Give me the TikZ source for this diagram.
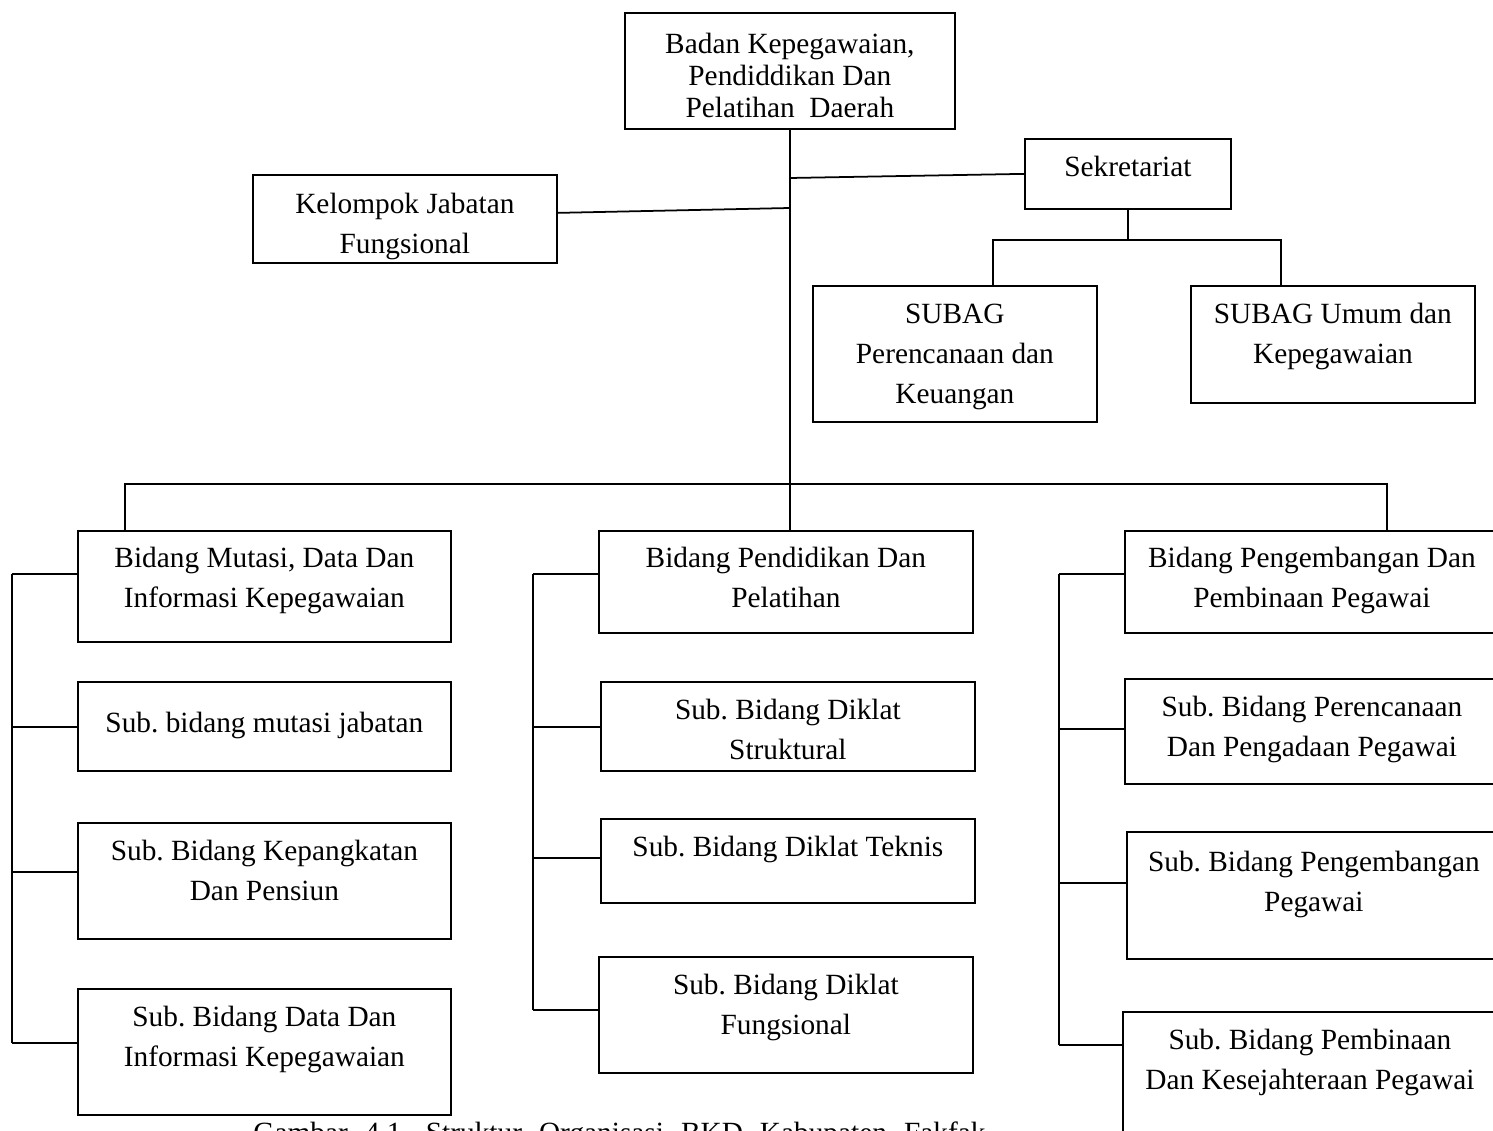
\documentclass[tikz,border=0pt]{standalone}
\usepackage{fontspec}
\setmainfont{Liberation Serif}
\frenchspacing
\newlength\pxu
\setlength\pxu{0.02cm}
\tikzset{
  orgbox/.style={draw, line width=1pt, inner sep=0pt, anchor=north west,
    font=\fontsize{16.7}{22.8}\selectfont},
  link/.style={line width=1pt},
}
% box with top aligned text: [first baseline]{name}{x}{y}{width}{height}{text}
\newcommand{\orgnode}[7][38]{%
  \node[orgbox] (#2) at (#3,#4)
    {\parbox[c][#6\pxu][t]{#5\pxu}{\centering\rule{0pt}{#1\pxu}#7}};}
\begin{document}
\begin{tikzpicture}[x=0.02cm, y=-0.02cm]
  \useasboundingbox (0,0) rectangle (1493,1131);
  % Top level
  \orgnode[41]{kepala}{624}{12}{330}{116}{\setlength\baselineskip{32\pxu}Badan Kepegawaian,\\ Pendiddikan Dan\\ Pelatihan\ \ Daerah}
  \orgnode{sekret}{1024}{138}{206}{70}{Sekretariat}
  \orgnode[39]{kjf}{252}{174}{304}{88}{Kelompok Jabatan\\ Fungsional}
  \orgnode{subperenc}{812}{285}{284}{136}{SUBAG\\ Perencanaan dan\\ Keuangan}
  \orgnode{subumum}{1190}{285}{284}{117}{SUBAG Umum dan\\ Kepegawaian}
  % Bidang
  \orgnode[37]{mutasi}{77}{530}{373}{111}{Bidang Mutasi, Data Dan\\ Informasi Kepegawaian}
  \orgnode[37]{diklat}{598}{530}{374}{102}{Bidang Pendidikan Dan\\ Pelatihan}
  \orgnode[37]{bangbina}{1124}{530}{374}{102}{Bidang Pengembangan Dan\\ Pembinaan Pegawai}
  % Sub bidang, left
  \orgnode[51]{jabatan}{77}{681}{373}{89}{Sub. bidang mutasi jabatan}
  \orgnode{pangkat}{77}{822}{373}{116}{Sub. Bidang Kepangkatan\\ Dan Pensiun}
  \orgnode{datainfo}{77}{988}{373}{126}{Sub. Bidang Data Dan\\ Informasi Kepegawaian}
  % Sub bidang, middle
  \orgnode{struktural}{600}{681}{374}{89}{Sub. Bidang Diklat\\ Struktural}
  \orgnode{teknis}{600}{818}{374}{84}{Sub. Bidang Diklat Teknis}
  \orgnode{fungsional}{598}{956}{374}{116}{Sub. Bidang Diklat\\ Fungsional}
  % Sub bidang, right
  \orgnode{pengadaan}{1124}{678}{374}{105}{Sub. Bidang Perencanaan\\ Dan Pengadaan Pegawai}
  \orgnode[40]{pengembangan}{1126}{831}{374}{127}{Sub. Bidang Pengembangan\\ Pegawai}
  \orgnode{kesejahteraan}{1122}{1011}{374}{129}{Sub. Bidang Pembinaan\\ Dan Kesejahteraan Pegawai}
  % Connectors
  \draw[link] (kepala.south) -- (kepala.south |- diklat.north);
  \draw[link] (sekret.west) -- (kepala.south |- 0,178);
  \draw[link] ([yshift=0.12cm]kjf.east) -- (kepala.south |- 0,208);
  \draw[link] (sekret.south) -- ++(0,30) coordinate (sekbus);
  \draw[link] ([xshift=0.76cm]subperenc.north) |- (sekbus) -| ([xshift=-1.04cm]subumum.north);
  \coordinate (bus) at (kepala.south |- 0,484);
  \draw[link] ([xshift=-2.79cm]mutasi.north) |- (bus) -| ([xshift=1.5cm]bangbina.north);
  \foreach \n/\y in {mutasi/574, jabatan/727, pangkat/872, datainfo/1043}
    \draw[link] (\n.west |- 0,\y) -- (12,\y);
  \draw[link] (12,574) -- (12,1043);
  \foreach \n/\y in {diklat/574, struktural/727, teknis/858, fungsional/1010}
    \draw[link] (\n.west |- 0,\y) -- (533,\y);
  \draw[link] (533,574) -- (533,1010);
  \foreach \n/\y in {bangbina/574, pengadaan/729, pengembangan/883, kesejahteraan/1045}
    \draw[link] (\n.west |- 0,\y) -- (1059,\y);
  \draw[link] (1059,574) -- (1059,1045);
  % Caption (cut at the page edge)
  \node[anchor=base west, inner sep=0pt, font=\fontsize{16.7}{20}\selectfont] (caption) at (253,1142)
    {\spaceskip=17\pxu\relax Gambar 4.1. Struktur Organisasi BKD Kabupaten Fakfak};
\end{tikzpicture}
\end{document}
